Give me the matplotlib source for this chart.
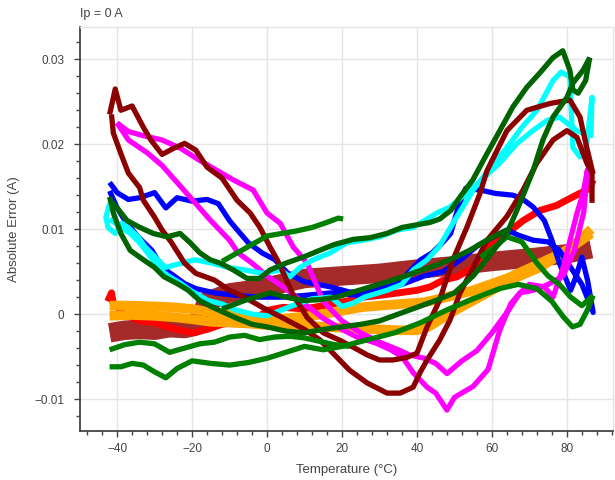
import numpy as np
import matplotlib
matplotlib.use("Agg")
import matplotlib.pyplot as plt
from matplotlib.ticker import MultipleLocator, FuncFormatter

plt.rcParams['font.family'] = ['Liberation Sans', 'DejaVu Sans']

# ---- data (temperature in degC, error in A) ----
brown_t = [-42, -38, -34, -30, -26, -22, -19, -16, -10, -5, 0, 10, 20, 30, 40, 50, 60, 70, 80, 86.5]
brown_v = [-0.0022, -0.0019, -0.0018, -0.0019, -0.0016, -0.0017, -0.0014, 0.0015, 0.0025, 0.0028,
           0.0032, 0.0042, 0.0045, 0.0048, 0.0053, 0.0057, 0.0062, 0.0066, 0.0071, 0.0077]

orange_heat_t = [-42, -36, -30, -24, -20, -15, -10, -5, 0, 5, 10, 15, 20, 25, 30, 35, 40, 43, 46, 50,
                 55, 60, 64, 68, 72.8, 77, 81.6, 86.5]
orange_heat_v = [-0.0002, -0.0001, -0.0002, -0.0004, -0.0006, -0.0009, -0.0010, -0.0011, -0.0013, -0.0012,
                 -0.0013, -0.0015, -0.0016, -0.0017, -0.0018, -0.0019, -0.0019, -0.0015, -0.0007, 0.0004,
                 0.0016, 0.0028, 0.0038, 0.0046, 0.0055, 0.0067, 0.0080, 0.0100]
orange_cool_t = [86.5, 80, 72, 64, 55, 48, 42, 36, 30, 25, 20, 15, 10, 5, 0, -5, -10, -15, -20, -25,
                 -30, -36, -42]
orange_cool_v = [0.0095, 0.0075, 0.0058, 0.0042, 0.0028, 0.0020, 0.0014, 0.0012, 0.0010, 0.0008,
                 0.0004, 0.0, -0.0003, -0.0005, -0.0006, -0.0004, -0.0001, 0.0002, 0.0006, 0.0008,
                 0.0009, 0.0010, 0.0010]

red_t = [-42.5, -41.5, -41, -38, -34, -30, -26.7, -23.2, -19.7, -16, -12, -7, -2, 0.8, 4.3, 10, 15,
         18.7, 22, 25.6, 30, 35, 40, 43.5, 47, 50.7, 55, 60, 64, 68.3, 72.8, 77.3, 81.6, 86.1, 87]
red_v = [0.0015, 0.0025, 0.0012, 0.0, -0.0008, -0.0010, -0.0015, -0.0019, -0.0022, -0.0018, -0.0012,
         -0.0008, -0.0002, 0.0005, 0.0008, 0.0006, 0.0010, 0.0013, 0.0016, 0.0020, 0.0022, 0.0025,
         0.0028, 0.0032, 0.0040, 0.0044, 0.0055, 0.0085, 0.0095, 0.0110, 0.0122, 0.0128, 0.0138,
         0.0148, 0.0158]

blue_t = [-42, -40, -37, -34, -30, -27, -24, -20, -16, -13, -10, -8.5, -5, -1.3, 2.1, 5.6, 10, 17, 22,
          28, 35, 41, 44, 47, 49, 51, 53, 57, 61, 65.6, 68, 71, 74, 76, 78, 81, 82.5, 84, 85.5, 87,
          84, 81, 78, 75, 71, 67, 64, 60, 56, 52, 47, 42, 36, 30, 24, 17, 10, 4, -2, -8, -14, -19,
          -22, -24.5, -28, -30.7, -34.4, -37.9, -40, -42]
blue_v = [0.0155, 0.0143, 0.0135, 0.0137, 0.0143, 0.0125, 0.0137, 0.0133, 0.0135, 0.0130, 0.0110,
          0.0102, 0.0084, 0.0072, 0.0064, 0.0048, 0.0038, 0.0032, 0.0026, 0.0027, 0.0036, 0.0064,
          0.0072, 0.0085, 0.0095, 0.0126, 0.0148, 0.0146, 0.0142, 0.0140, 0.0136, 0.0126, 0.0110,
          0.0087, 0.0060, 0.0028, 0.0045, 0.0067, 0.0040, 0.0002,
          0.0035, 0.0055, 0.0075, 0.0085, 0.0087, 0.0093, 0.0099, 0.0090, 0.0080, 0.0065, 0.0050,
          0.0045, 0.0035, 0.0028, 0.0022, 0.0025, 0.0022, 0.0020, 0.0020, 0.0022, 0.0025, 0.0030,
          0.0036, 0.0044, 0.0055, 0.0075, 0.0091, 0.0110, 0.0125, 0.0145]

magenta_t = [-40, -37, -32, -28, -24, -20, -15, -10, -7.7, -4, 0, 5, 10, 15, 20, 24, 29, 33, 36, 39,
             42.7, 45, 48, 50, 55, 59, 62, 65, 67.5, 70, 74, 76.3, 79, 82.7, 84.3, 85.5,
             84.5, 82, 79, 75, 71, 67.5, 64, 60, 56, 52, 48, 45, 42, 38, 35, 30, 25, 20, 15, 10.7,
             7, 3.5, 0, -3.7, -9, -18, -23, -28, -33, -37, -40]
magenta_v = [0.0225, 0.0205, 0.0190, 0.0175, 0.0155, 0.0135, 0.0110, 0.0087, 0.0072, 0.0060,
             0.0045, 0.0030, 0.0012, -0.0005, -0.0018, -0.0027, -0.0034, -0.0042, -0.0050, -0.0069,
             -0.0086, -0.0093, -0.0113, -0.0098, -0.0085, -0.0065, -0.0020, 0.0012, 0.0025, 0.0035,
             0.0032, 0.0020, 0.0055, 0.0119, 0.0142, 0.0170,
             0.0120, 0.0075, 0.0045, 0.0035, 0.0028, 0.0025, 0.0002, -0.0022, -0.0043, -0.0055,
             -0.0070, -0.0058, -0.0052, -0.0048, -0.0042, -0.0033, -0.0022, -0.0008, 0.0015, 0.0060,
             0.0079, 0.0107, 0.0119, 0.0146, 0.0158, 0.0181, 0.0195, 0.0205, 0.0210, 0.0215, 0.0225]

cyan_t = [-42, -39, -36.5, -34, -31, -28.5, -26, -23, -20.5, -15.7, -12, -8.5, -4, 0, 4, 8, 12, 17,
          20, 23, 26, 32, 36, 39, 42.7, 46, 50, 55, 60, 64, 68, 72, 76.3, 78.5, 80.8, 81.6, 83.5,
          85.3, 86.1, 86.7, 86.4,
          83, 80, 78, 74.7, 70.9, 66.7, 62.1, 55, 48.8, 45.3, 39, 34.7, 30.1, 25.6, 21.3, 16.8, 12.3,
          8.8, 6.1, 3.5, -1.3, -5.9, -10.4, -14.7, -19.2, -24.5, -27.2, -29.1, -32.5, -34.4, -37.1,
          -38.7, -40.5, -42.4, -43, -42]
cyan_v = [0.0112, 0.0102, 0.0095, 0.0084, 0.0067, 0.0052, 0.0044, 0.0036, 0.0028, 0.0016, 0.0012,
          0.0005, 0.0, -0.0002, 0.0005, 0.0012, 0.0018, 0.0020, 0.0009, 0.0013, 0.0020, 0.0028,
          0.0035, 0.0052, 0.0064, 0.0080, 0.0110, 0.0146, 0.0175, 0.0196, 0.0220, 0.0240, 0.0275,
          0.0285, 0.0279, 0.0196, 0.0185, 0.0201, 0.0232, 0.0255, 0.0210,
          0.0215, 0.0225, 0.0232, 0.0228, 0.0216, 0.0201, 0.0178, 0.0149, 0.0126, 0.0119, 0.0102,
          0.0099, 0.0091, 0.0087, 0.0084, 0.0072, 0.0064, 0.0055, 0.0044, 0.0052, 0.0048, 0.0052,
          0.0055, 0.0060, 0.0064, 0.0058, 0.0055, 0.0064, 0.0079, 0.0091, 0.0102, 0.0107, 0.0095,
          0.0102, 0.0114, 0.0130]

darkred_a_t = [-42, -40.5, -39, -36, -33, -31, -28, -25, -22, -19, -16, -12, -8, -4.5, -1.9, 0.8, 2.7,
               4, 6.7, 10.7, 15, 19.5, 23, 26.7, 30, 33.6, 37.3, 40, 42.7, 46, 49.6, 53.3, 56.8, 58.7,
               64, 69.3, 75.5, 80.8, 83.5, 85.3, 87]
darkred_a_v = [0.0235, 0.0265, 0.0240, 0.0245, 0.0220, 0.0205, 0.0188, 0.0195, 0.0201, 0.0193, 0.0173,
               0.0160, 0.0134, 0.0119, 0.0102, 0.0079, 0.0064, 0.0052, 0.0025, -0.0004, -0.0022,
               -0.0031, -0.0039, -0.0048, -0.0054, -0.0054, -0.0051, -0.0046, -0.0015, 0.0016, 0.0064,
               0.0102, 0.0142, 0.0169, 0.0216, 0.0240, 0.0248, 0.0252, 0.0232, 0.0196, 0.0165]
darkred_b_t = [-41.5, -41, -39, -37, -34, -33, -30, -28, -25.6, -22, -19, -14, -10, -6, -1.3, 4, 10,
               14, 17.6, 22, 26.7, 32, 35.5, 39, 40.8, 42.7, 46, 48.8, 51.5, 55, 58.7, 64, 68.3, 72,
               76.3, 80, 82.7, 85.3, 86.7, 86.7]
darkred_b_v = [0.0235, 0.0213, 0.0189, 0.0166, 0.0149, 0.0134, 0.0114, 0.0099, 0.0085, 0.0060, 0.0048,
               0.0040, 0.0028, 0.0020, 0.0008, -0.0004, -0.0018, -0.0030, -0.0046, -0.0066, -0.0081,
               -0.0093, -0.0093, -0.0086, -0.0069, -0.0054, -0.0031, -0.0007, 0.0025, 0.0055, 0.0087,
               0.0115, 0.0146, 0.0178, 0.0205, 0.0216, 0.0208, 0.0178, 0.0166, 0.0131]

green_low_t = [-42, -39, -36, -33, -30, -27, -24, -20, -15, -10, -5, 0, 5, 10, 15, 20, 27, 34, 41, 48,
               55, 62, 67, 72, 76, 79, 81.5, 83.5, 85.5, 87]
green_low_v = [-0.0062, -0.0062, -0.0058, -0.0060, -0.0068, -0.0075, -0.0064, -0.0055, -0.0058, -0.0060,
               -0.0057, -0.0052, -0.0045, -0.0038, -0.0042, -0.0038, -0.0030, -0.0022, -0.0010, 0.0005,
               0.0018, 0.0030, 0.0035, 0.0030, 0.0015, -0.0003, -0.0015, -0.0012, 0.0005, 0.0022]
green_up_t = [-42, -38, -34, -30, -26, -22, -18, -14, -10, -6, -2, 2, 6, 10, 14, 18, 22]
green_up_v = [-0.0042, -0.0036, -0.0033, -0.0035, -0.0045, -0.0040, -0.0035, -0.0033, -0.0027, -0.0025,
              -0.0030, -0.0027, -0.0026, -0.0028, -0.0032, -0.0036, -0.0038]
green_top_t = [-12, -8, -4, 0, 4, 8, 12, 16, 19, 20.3]
green_top_v = [0.0062, 0.0072, 0.0082, 0.0092, 0.0095, 0.0098, 0.0102, 0.0108, 0.0113, 0.0112]
green_right_t = [57, 61, 64, 68, 72, 75, 78, 81, 84, 87]
green_right_v = [0.0067, 0.0080, 0.0091, 0.0085, 0.0060, 0.0045, 0.0035, 0.0020, 0.0010, 0.0022]

dkgreen_heat_t = [-42, -41, -39, -36.5, -33, -30, -27.5, -24, -21, -18, -14.5, -11, -8, -4, 0, 5, 10,
                  15, 20, 25, 30, 35, 40, 45, 50, 55, 59, 64, 67.5, 71, 73.6, 76.3, 80, 81.6, 84.3, 86.1]
dkgreen_heat_v = [0.0138, 0.0119, 0.0095, 0.0075, 0.0064, 0.0055, 0.0044, 0.0036, 0.0028, 0.0016,
                  0.0008, 0.0001, -0.0005, -0.0012, -0.0015, -0.0020, -0.0022, -0.0018, -0.0015,
                  -0.0012, -0.0008, 0.0, 0.0008, 0.0016, 0.0025, 0.0045, 0.0067, 0.0095, 0.0131,
                  0.0169, 0.0205, 0.0232, 0.0255, 0.0272, 0.0287, 0.0302]
dkgreen_cool_t = [86.1, 85, 83, 81.6, 80.8, 78.9, 76.3, 72.8, 69.3, 65.6, 62.1, 58.7, 54.9, 51.5, 49,
                  46.1, 43.5, 36, 32, 27.5, 23, 18, 14, 9.6, 5, 0.8, -2, -5.3, -9, -12.5, -15.2, -17.9,
                  -20.5, -23.2, -26.7, -30.4, -33.9, -37.3, -40, -42]
dkgreen_cool_v = [0.0302, 0.0275, 0.0260, 0.0264, 0.0287, 0.0310, 0.0302, 0.0284, 0.0267, 0.0244,
                  0.0216, 0.0189, 0.0158, 0.0138, 0.0122, 0.0112, 0.0108, 0.0102, 0.0095, 0.0090,
                  0.0088, 0.0082, 0.0075, 0.0067, 0.0060, 0.0052, 0.0042, 0.0042, 0.0052, 0.0060,
                  0.0064, 0.0072, 0.0084, 0.0095, 0.0091, 0.0095, 0.0102, 0.0110, 0.0125, 0.0135]
dkgreen_mid_t = [-12, -6, 0.8, 5, 9.6, 14, 18.7, 23, 27.5, 32, 36.3, 40, 43.5, 48.8, 54, 59, 64]
dkgreen_mid_v = [0.0006, 0.0016, 0.0025, 0.0020, 0.0016, 0.0017, 0.0020, 0.0026, 0.0032, 0.0038,
                 0.0044, 0.0050, 0.0055, 0.0064, 0.0075, 0.0088, 0.0099]

# (t, v, colour, width) in drawing order
traces = [
    (brown_t, brown_v, '#a52a2a', 14),
    (red_t, red_v, '#ff0000', 5),
    (orange_heat_t, orange_heat_v, '#ffa500', 7),
    (orange_cool_t, orange_cool_v, '#ffa500', 7),
    (blue_t, blue_v, '#0000ff', 3.8),
    (magenta_t, magenta_v, '#ff00ff', 3.8),
    (cyan_t, cyan_v, '#00ffff', 3.8),
    (darkred_a_t, darkred_a_v, '#8b0000', 3.8),
    (darkred_b_t, darkred_b_v, '#8b0000', 3.8),
    (green_low_t, green_low_v, '#008000', 3.8),
    (green_up_t, green_up_v, '#008000', 3.8),
    (green_top_t, green_top_v, '#008000', 3.8),
    (green_right_t, green_right_v, '#008000', 3.8),
    (dkgreen_heat_t, dkgreen_heat_v, '#006400', 3.8),
    (dkgreen_cool_t, dkgreen_cool_v, '#006400', 3.8),
    (dkgreen_mid_t, dkgreen_mid_v, '#006400', 3.8),
]

fig = plt.figure(figsize=(6.15, 4.8), dpi=100)
ax = fig.add_axes([80 / 615, 49 / 480, 533 / 615, 404 / 480])

for t, v, col, lw in traces:
    ax.plot(np.array(t), np.array(v), color=col, lw=lw, solid_joinstyle='round',
            solid_capstyle='butt')

ax.set_xlim(-49.9, 92.3)
ax.set_ylim(-0.01376, 0.0338)

ax.xaxis.set_major_locator(MultipleLocator(20))
ax.xaxis.set_minor_locator(MultipleLocator(4))
ax.yaxis.set_major_locator(MultipleLocator(0.01))
ax.yaxis.set_minor_locator(MultipleLocator(0.002))
fmt = FuncFormatter(lambda x, pos: ('%g' % round(x, 6)).replace('-', '\u2212'))
ax.xaxis.set_major_formatter(fmt)
ax.yaxis.set_major_formatter(fmt)

ax.grid(True, which='major', color='#e5e5e5', lw=1)
ax.set_axisbelow(True)
for side in ['top', 'right']:
    ax.spines[side].set_color('#e5e5e5')
    ax.spines[side].set_linewidth(1)
for side in ['left', 'bottom']:
    ax.spines[side].set_color('#444444')
    ax.spines[side].set_linewidth(1.3)

ax.tick_params(which='major', direction='out', length=4.3, width=1, color='#444444',
               labelsize=8.5, labelcolor='#444444')
ax.tick_params(which='minor', direction='out', length=2.9, width=1, color='#444444')
ax.tick_params(axis='y', which='major', pad=7)
ax.tick_params(axis='x', which='major', pad=4)

ax.set_xlabel('Temperature (°C)', fontsize=9.5, color='#444444', va='center')
ax.xaxis.set_label_coords(0.5, -0.097)
ax.set_ylabel('Absolute Error (A)', fontsize=9.5, color='#444444', va='center')
ax.yaxis.set_label_coords(-0.124, 0.5)
ax.text(0, 1.032, 'Ip = 0 A', transform=ax.transAxes, ha='left', va='center',
        fontsize=9, color='#444444')

fig.savefig('out.png', dpi=100)
